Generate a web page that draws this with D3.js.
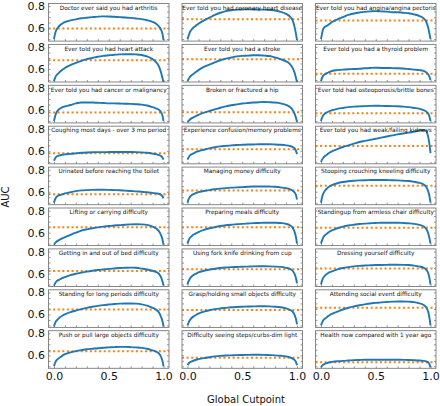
<!DOCTYPE html>
<html><head><meta charset="utf-8">
<script src="https://cdn.jsdelivr.net/npm/d3@7"></script>
<style>html,body{margin:0;padding:0;background:#fff;}svg{display:block;}</style>
</head><body>
<svg id="chart" width="440" height="406"></svg>
<script>
const cutpoints = [0,0.01,0.02,0.04,0.06,0.08,0.1,0.15,0.2,0.25,0.3,0.35,0.4,0.45,0.5,0.55,0.6,0.65,0.7,0.75,0.8,0.85,0.9,0.93,0.96,0.98,0.99,1.0];
const titles = [
 "Doctor ever said you had arthritis","Ever told you had coronary heart disease","Ever told you had angina/angina pectoris",
 "Ever told you had heart attack","Ever told you had a stroke","Ever told you had a thyroid problem",
 "Ever told you had cancer or malignancy","Broken or fractured a hip","Ever told had osteoporosis/brittle bones",
 "Coughing most days - over 3 mo period","Experience confusion/memory problems","Ever told you had weak/failing kidneys",
 "Urinated before reaching the toilet","Managing money difficulty","Stooping crouching kneeling difficulty",
 "Lifting or carrying difficulty","Preparing meals difficulty","Standingup from armless chair difficulty",
 "Getting in and out of bed difficulty","Using fork knife drinking from cup","Dressing yourself difficulty",
 "Standing for long periods difficulty","Grasp/holding small objects difficulty","Attending social event difficulty",
 "Push or pull large objects difficulty","Difficulty seeing steps/curbs-dim light","Health now compared with 1 year ago"];
const baselines = [0.597,0.68,0.67, 0.68,0.688,0.557, 0.577,0.578,0.57, 0.577,0.615,0.645, 0.578,0.612,0.655, 0.65,0.648,0.645, 0.622,0.638,0.645, 0.645,0.64,0.66, 0.637,0.578,0.538];

const aucArthritis = [0.50,0.55,0.58,0.61,0.63,0.645,0.655,0.67,0.68,0.69,0.695,0.70,0.705,0.707,0.706,0.703,0.70,0.697,0.693,0.688,0.682,0.672,0.657,0.642,0.612,0.58,0.55,0.49];
const aucCoronary = [0.50,0.53,0.56,0.59,0.61,0.625,0.64,0.67,0.695,0.72,0.74,0.755,0.762,0.768,0.77,0.772,0.77,0.77,0.768,0.765,0.76,0.748,0.73,0.71,0.67,0.60,0.55,0.49];
const aucAngina = [0.50,0.55,0.59,0.615,0.625,0.64,0.655,0.68,0.70,0.72,0.733,0.742,0.748,0.752,0.755,0.752,0.75,0.745,0.745,0.74,0.735,0.725,0.71,0.695,0.66,0.60,0.55,0.50];
const aucHeartAttack = [0.49,0.52,0.54,0.56,0.58,0.595,0.61,0.635,0.655,0.675,0.69,0.70,0.712,0.72,0.725,0.73,0.733,0.735,0.735,0.733,0.728,0.715,0.69,0.665,0.62,0.56,0.52,0.48];
const aucStroke = [0.49,0.51,0.525,0.545,0.56,0.575,0.59,0.62,0.64,0.66,0.68,0.695,0.705,0.715,0.72,0.722,0.725,0.725,0.722,0.718,0.705,0.69,0.67,0.65,0.61,0.56,0.52,0.48];
const aucThyroid = [0.49,0.52,0.54,0.555,0.565,0.575,0.582,0.59,0.595,0.598,0.60,0.603,0.607,0.61,0.612,0.61,0.61,0.608,0.607,0.605,0.60,0.595,0.59,0.585,0.57,0.55,0.53,0.50];
const aucCancer = [0.50,0.54,0.57,0.60,0.615,0.625,0.632,0.645,0.66,0.668,0.668,0.667,0.665,0.663,0.66,0.66,0.658,0.656,0.655,0.652,0.648,0.64,0.625,0.615,0.60,0.575,0.55,0.50];
const aucHip = [0.49,0.50,0.51,0.525,0.535,0.545,0.555,0.575,0.59,0.605,0.62,0.632,0.642,0.65,0.658,0.663,0.667,0.67,0.672,0.67,0.667,0.66,0.645,0.63,0.60,0.56,0.53,0.49];
const aucOsteo = [0.50,0.53,0.55,0.57,0.58,0.59,0.597,0.61,0.618,0.625,0.63,0.632,0.635,0.637,0.638,0.637,0.636,0.635,0.633,0.63,0.625,0.618,0.61,0.60,0.585,0.565,0.54,0.50];
const aucCough = [0.51,0.53,0.545,0.555,0.56,0.565,0.568,0.572,0.577,0.582,0.585,0.587,0.588,0.588,0.589,0.59,0.59,0.59,0.589,0.588,0.586,0.582,0.575,0.57,0.56,0.55,0.54,0.52];
const aucConfusion = [0.52,0.54,0.555,0.57,0.58,0.59,0.597,0.61,0.622,0.632,0.64,0.645,0.65,0.653,0.655,0.657,0.658,0.66,0.66,0.66,0.658,0.655,0.65,0.645,0.635,0.62,0.60,0.57];
const aucKidney = [0.50,0.52,0.535,0.555,0.57,0.585,0.595,0.615,0.635,0.65,0.665,0.68,0.69,0.70,0.71,0.72,0.73,0.74,0.75,0.758,0.765,0.775,0.785,0.79,0.78,0.72,0.66,0.58];
const aucUrinated = [0.50,0.53,0.55,0.565,0.572,0.578,0.585,0.595,0.605,0.612,0.615,0.617,0.618,0.618,0.617,0.615,0.613,0.61,0.607,0.603,0.60,0.595,0.59,0.585,0.58,0.57,0.56,0.54];
const aucMoney = [0.50,0.53,0.55,0.57,0.58,0.59,0.597,0.607,0.615,0.622,0.628,0.633,0.637,0.64,0.642,0.645,0.647,0.648,0.648,0.647,0.645,0.64,0.632,0.625,0.61,0.59,0.57,0.53];
const aucStooping = [0.50,0.55,0.58,0.615,0.635,0.65,0.66,0.677,0.688,0.695,0.70,0.703,0.705,0.706,0.707,0.707,0.706,0.705,0.703,0.70,0.697,0.69,0.68,0.67,0.645,0.60,0.56,0.50];
const aucLifting = [0.49,0.505,0.515,0.53,0.54,0.55,0.558,0.58,0.60,0.618,0.63,0.64,0.648,0.655,0.66,0.665,0.668,0.672,0.675,0.676,0.675,0.67,0.655,0.64,0.61,0.57,0.54,0.49];
const aucMeals = [0.50,0.53,0.55,0.57,0.585,0.595,0.605,0.625,0.64,0.65,0.66,0.667,0.672,0.676,0.68,0.683,0.686,0.688,0.69,0.69,0.69,0.687,0.68,0.67,0.645,0.60,0.56,0.50];
const aucChair = [0.50,0.53,0.555,0.58,0.595,0.61,0.62,0.64,0.655,0.665,0.672,0.678,0.682,0.685,0.688,0.69,0.69,0.69,0.69,0.688,0.685,0.68,0.67,0.66,0.635,0.59,0.55,0.50];
const aucBed = [0.49,0.51,0.525,0.54,0.55,0.56,0.568,0.585,0.598,0.608,0.617,0.625,0.632,0.637,0.642,0.646,0.65,0.652,0.654,0.652,0.645,0.637,0.625,0.615,0.595,0.56,0.53,0.49];
const aucFork = [0.50,0.53,0.55,0.575,0.59,0.60,0.61,0.625,0.635,0.643,0.65,0.655,0.658,0.66,0.662,0.663,0.665,0.666,0.666,0.665,0.663,0.66,0.652,0.645,0.625,0.59,0.56,0.51];
const aucDressing = [0.50,0.535,0.56,0.585,0.60,0.612,0.62,0.637,0.65,0.658,0.665,0.67,0.673,0.675,0.677,0.678,0.679,0.68,0.68,0.679,0.677,0.672,0.663,0.655,0.635,0.60,0.56,0.50];
const aucStanding = [0.49,0.52,0.54,0.56,0.578,0.59,0.60,0.62,0.635,0.648,0.66,0.67,0.678,0.685,0.69,0.695,0.698,0.70,0.70,0.698,0.692,0.68,0.66,0.645,0.615,0.57,0.54,0.49];
const aucGrasp = [0.50,0.525,0.545,0.57,0.585,0.597,0.607,0.625,0.638,0.648,0.655,0.66,0.665,0.668,0.67,0.672,0.673,0.674,0.674,0.673,0.67,0.665,0.655,0.645,0.625,0.59,0.56,0.51];
const aucSocial = [0.50,0.525,0.545,0.565,0.58,0.595,0.605,0.625,0.645,0.66,0.673,0.683,0.692,0.70,0.705,0.71,0.713,0.716,0.718,0.718,0.716,0.712,0.70,0.69,0.665,0.62,0.57,0.50];
const aucPush = [0.50,0.53,0.55,0.57,0.585,0.60,0.61,0.627,0.638,0.647,0.655,0.66,0.665,0.669,0.672,0.675,0.677,0.677,0.675,0.672,0.668,0.66,0.645,0.635,0.615,0.58,0.55,0.50];
const aucSeeing = [0.51,0.525,0.535,0.545,0.553,0.56,0.565,0.575,0.583,0.59,0.595,0.598,0.60,0.602,0.603,0.604,0.605,0.605,0.604,0.602,0.60,0.596,0.59,0.583,0.57,0.555,0.54,0.51];
const aucHealth = [0.49,0.505,0.515,0.525,0.532,0.537,0.54,0.546,0.55,0.553,0.556,0.558,0.56,0.56,0.56,0.56,0.56,0.56,0.56,0.559,0.558,0.556,0.553,0.55,0.545,0.535,0.52,0.49];

const aucSeries = [aucArthritis,aucCoronary,aucAngina,aucHeartAttack,aucStroke,aucThyroid,aucCancer,aucHip,aucOsteo,
  aucCough,aucConfusion,aucKidney,aucUrinated,aucMoney,aucStooping,aucLifting,aucMeals,aucChair,
  aucBed,aucFork,aucDressing,aucStanding,aucGrasp,aucSocial,aucPush,aucSeeing,aucHealth];

const yTickLabels = [0.6, 0.8];
const xTickLabels = [0, 0.5, 1.0];

const svg = d3.select("#chart");
const nCols = 3, nRows = 9;
const colLeft = [48.5, 182, 315.5], panelW = 120.5;
const rowTop0 = 3.5, rowPitch = 40.9, panelH = 37.6;
const font = "DejaVu Sans";
const gray = "#7a7a7a";

svg.append("defs").selectAll("clipPath").data(aucSeries).join("clipPath")
  .attr("id", (d,i) => "clip" + i)
  .append("rect")
  .attr("x", (d,i) => colLeft[i % nCols])
  .attr("y", (d,i) => rowTop0 + Math.floor(i / nCols) * rowPitch)
  .attr("width", panelW).attr("height", panelH);

aucSeries.forEach((vals, i) => {
  const c = i % nCols, r = Math.floor(i / nCols);
  const L = colLeft[c], T = rowTop0 + r * rowPitch;
  const x = d3.scaleLinear().domain([-0.05, 1.05]).range([L, L + panelW]);
  const y = d3.scaleLinear().domain([0.482, 0.824]).range([T + panelH, T]);
  const g = svg.append("g");

  const xt = g.append("g").attr("transform", `translate(0,${T + panelH})`)
    .call(d3.axisBottom(x).tickValues(d3.range(0, 1.0001, 0.1)).tickSize(-2).tickFormat(""));
  const yl = g.append("g").attr("transform", `translate(${L},0)`)
    .call(d3.axisLeft(y).tickValues(d3.range(0.5, 0.8001, 0.05)).tickSize(-2).tickFormat(""));
  const yr = g.append("g").attr("transform", `translate(${L + panelW},0)`)
    .call(d3.axisRight(y).tickValues(d3.range(0.5, 0.8001, 0.05)).tickSize(-2).tickFormat(""));
  [xt, yl, yr].forEach(a => { a.select(".domain").remove(); a.selectAll("line").attr("stroke", gray).attr("stroke-width", 0.8); });

  g.append("line")
    .attr("x1", x(-0.05)).attr("x2", x(1.05))
    .attr("y1", y(baselines[i])).attr("y2", y(baselines[i]))
    .attr("stroke", "#ff7f0e").attr("stroke-width", 2)
    .attr("stroke-dasharray", "2,2.6");

  const line = d3.line().x((d, k) => x(cutpoints[k])).y(d => y(d)).curve(d3.curveMonotoneX);
  g.append("path").datum(vals)
    .attr("d", line)
    .attr("clip-path", `url(#clip${i})`)
    .attr("fill", "none").attr("stroke", "#1f77b4").attr("stroke-width", 1.9)
    .attr("stroke-linejoin", "round");

  g.append("rect").attr("x", L).attr("y", T).attr("width", panelW).attr("height", panelH)
    .attr("fill", "none").attr("stroke", gray).attr("stroke-width", 0.9);

  g.append("text").attr("x", L + panelW / 2).attr("y", T + 6.2)
    .attr("text-anchor", "middle").attr("font-family", font).attr("font-size", 5.8)
    .attr("fill", "#111").text(titles[i]);

  if (c === 0) {
    const ya = g.append("g").attr("transform", `translate(${L},0)`)
      .call(d3.axisLeft(y).tickValues(yTickLabels).tickSize(0).tickPadding(3.5).tickFormat(d3.format(".1f")));
    ya.select(".domain").remove();
    ya.selectAll("text").attr("font-family", font).attr("font-size", 11).attr("fill", "#111");
  }
  if (r === nRows - 1) {
    const xa = g.append("g").attr("transform", `translate(0,${T + panelH})`)
      .call(d3.axisBottom(x).tickValues(xTickLabels).tickSize(0).tickPadding(3.5).tickFormat(d3.format(".1f")));
    xa.select(".domain").remove();
    xa.selectAll("text").attr("font-family", font).attr("font-size", 11).attr("fill", "#111");
  }
});

svg.append("text").attr("transform", "translate(9,197) rotate(-90)")
  .attr("text-anchor", "middle").attr("font-family", font).attr("font-size", 10).attr("fill", "#111").text("AUC");
svg.append("text").attr("x", 246).attr("y", 403)
  .attr("text-anchor", "middle").attr("font-family", font).attr("font-size", 10).attr("fill", "#111").text("Global Cutpoint");
</script>
</body></html>
